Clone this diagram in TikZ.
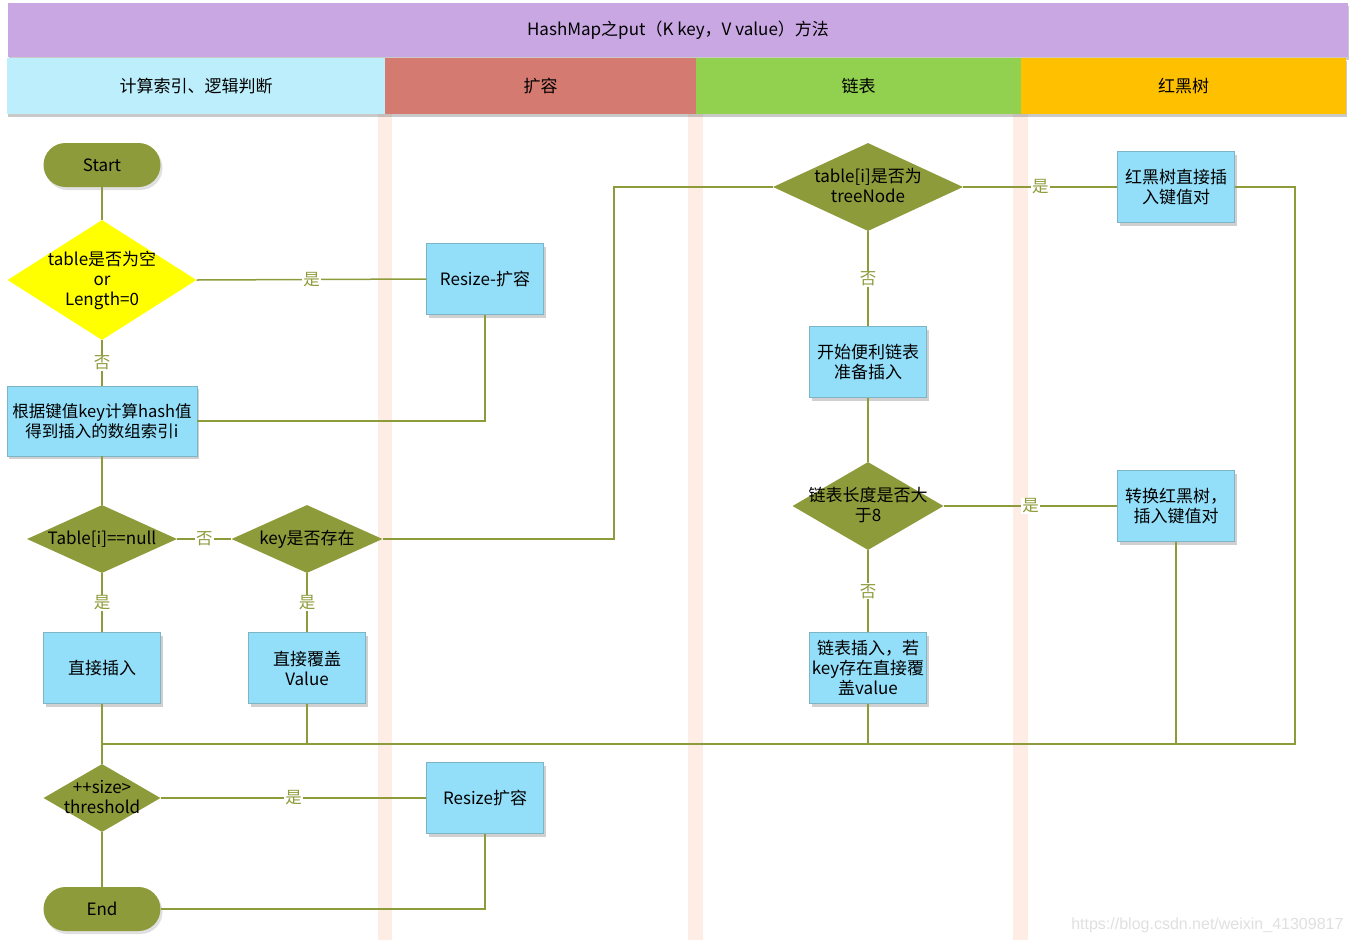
\documentclass[tikz,border=0pt]{standalone}
\usepackage{fontspec}
\setmainfont{Noto Sans CJK SC}
\newfontfamily\wmfont{Liberation Sans}
\usetikzlibrary{positioning,shapes.geometric,shadows,calc}
\definecolor{hmpurple}{HTML}{C9A7E3}
\definecolor{hmcyan}{HTML}{BDEEFC}
\definecolor{hmred}{HTML}{D47A70}
\definecolor{hmgreen}{HTML}{92D050}
\definecolor{hmamber}{HTML}{FFC000}
\definecolor{hmstrip}{HTML}{FDEDE4}
\definecolor{hmolive}{HTML}{8E9B3A}
\definecolor{hmbox}{HTML}{93DFF9}
\definecolor{hmboxline}{HTML}{7DB4C6}
\definecolor{hmyellow}{HTML}{FFFF00}
\tikzset{
  hdr/.style   ={rectangle, inner sep=0pt, minimum height=56pt, text=black,
                 font=\fontsize{17}{20}\selectfont,
                 drop shadow={shadow xshift=1pt, shadow yshift=-3pt, opacity=.35, fill=black!60}},
  box/.style   ={rectangle, draw=hmboxline, thin, fill=hmbox, align=center, text=black,
                 font=\fontsize{17}{20}\selectfont, minimum width=117pt, minimum height=71pt,
                 inner sep=1pt,
                 drop shadow={shadow xshift=2pt, shadow yshift=-3pt, opacity=.3, fill=black!60}},
  pill/.style  ={rectangle, rounded corners=22pt, fill=hmolive, text=black,
                 font=\fontsize{17}{20}\selectfont, minimum width=117pt, minimum height=44pt,
                 drop shadow={shadow xshift=2pt, shadow yshift=-3pt, opacity=.2, fill=black!60}},
  dec/.style   ={diamond, fill=hmolive, inner sep=0pt, text=black,
                 font=\fontsize{17}{20}\selectfont},
  fl/.style    ={draw=hmolive, line width=1.5pt},
  lbl/.style   ={fill=white, text=hmolive, inner sep=1pt, font=\fontsize{16.5}{19}\selectfont}
}
\newcommand{\dtxt}[1]{\smash{\makebox[0pt]{\raisebox{-5.5pt}{\begin{tabular}{@{}c@{}}#1\end{tabular}}}}}

\begin{document}
\begin{tikzpicture}[x=1pt,y=-1pt]
  \useasboundingbox[fill=white] (0,0) rectangle (1356,943);
  % --- lane separators
  \fill[hmstrip] (378,114) rectangle (392,940);
  \fill[hmstrip] (688,114) rectangle (703,940);
  \fill[hmstrip] (1013,114) rectangle (1028,940);
  % --- title and lane headers
  \node[hdr,fill=hmpurple,minimum width=1340pt,minimum height=54pt] (ttl) at (678,30)
        {HashMap之put（K key，V value）方法};
  \node[hdr,fill=hmcyan,minimum width=378pt]  (h1) at (196,86)    {计算索引、逻辑判断};
  \node[hdr,fill=hmred,minimum width=311pt]   (h2) at (540.5,86)  {扩容};
  \node[hdr,fill=hmgreen,minimum width=325pt] (h3) at (858.5,86)  {链表};
  \node[hdr,fill=hmamber,minimum width=325pt] (h4) at (1183.5,86) {红黑树};
  % --- column 1 : index and checks
  \node[pill]                                          (st)  at (102,165) {Start};
  \node[dec,fill=hmyellow,minimum width=189pt,minimum height=120pt] (d1) at (102,280)
        {\dtxt{table是否为空\\or\\Length=0}};
  \node[box,minimum width=190pt,minimum height=70pt,font=\fontsize{16.5}{20}\selectfont] (cal) at (102,421)
        {根据键值key计算hash值\\得到插入的数组索引i};
  \node[dec,minimum width=150pt,minimum height=68pt]   (d2)  at (102,539) {\dtxt{Table[i]==null}};
  \node[dec,minimum width=151pt,minimum height=68pt]   (d3)  at (307,539) {\dtxt{key是否存在}};
  \node[box]                                           (ins) at (102,668) {直接插入};
  \node[box]                                           (cov) at (307,668) {直接覆盖\\Value};
  \node[dec,minimum width=117pt,minimum height=68pt]   (d4)  at (102,798) {\dtxt{++size>\\threshold}};
  \node[pill]                                          (en)  at (102,909) {End};
  % --- column 2 : resize
  \node[box]                                           (rs1) at (485,279) {Resize-扩容};
  \node[box]                                           (rs2) at (485,798) {Resize扩容};
  % --- column 3 : linked list
  \node[dec,minimum width=190pt,minimum height=88pt]   (d5)  at (868,187) {\dtxt{table[i]是否为\\treeNode}};
  \node[box]                                           (trv) at (868,362) {开始便利链表\\准备插入};
  \node[dec,minimum width=151pt,minimum height=88pt]   (d6)  at (868,506) {\dtxt{链表长度是否大\\于8}};
  \node[box]                                           (lst) at (868,668) {链表插入，若\\key存在直接覆\\盖value};
  % --- column 4 : red-black tree
  \node[box]                                           (rb1) at (1176,187) {红黑树直接插\\入键值对};
  \node[box]                                           (rb2) at (1176,506) {转换红黑树，\\插入键值对};
  \node[font=\wmfont\fontsize{16}{16}\selectfont,text=black!12,anchor=east] (wm) at (1347,925)
        {https://blog.csdn.net/weixin\_41309817};

  \coordinate (k1)  at (614,539);
  \coordinate (bl)  at (102,744);
  \coordinate (br)  at (1295,744);

  \draw[fl] (st)--(d1);
  \draw[fl] (d1.east)--(rs1.west) node[lbl,midway] {是};
  \draw[fl] (d1.south)--(cal.north) node[lbl,midway] {否};
  \draw[fl] (rs1.south) |- (cal.east);
  \draw[fl] (cal)--(d2);
  \draw[fl] (d2.east)--(d3.west) node[lbl,midway] {否};
  \draw[fl] (d2.south)--(ins.north) node[lbl,midway] {是};
  \draw[fl] (d3.south)--(cov.north) node[lbl,midway] {是};
  \draw[fl] (d3.east)--(k1) |- (d5.west);
  \draw[fl] (d5.east)--(rb1.west) node[lbl,midway] {是};
  \draw[fl] (d5.south)--(trv.north) node[lbl,midway] {否};
  \draw[fl] (trv)--(d6);
  \draw[fl] (d6.east)--(rb2.west) node[lbl,midway] {是};
  \draw[fl] (d6.south)--(lst.north) node[lbl,midway] {否};
  \draw[fl] (rb1.east) -| (br) -- (bl);
  \draw[fl] (rb2.south)--(rb2.south|-bl);
  \draw[fl] (lst.south)--(lst.south|-bl);
  \draw[fl] (cov.south)--(cov.south|-bl);
  \draw[fl] (ins)--(d4);
  \draw[fl] (d4.east)--(rs2.west) node[lbl,midway] {是};
  \draw[fl] (d4)--(en);
  \draw[fl] (rs2.south) |- (en.east);
\end{tikzpicture}
\end{document}
